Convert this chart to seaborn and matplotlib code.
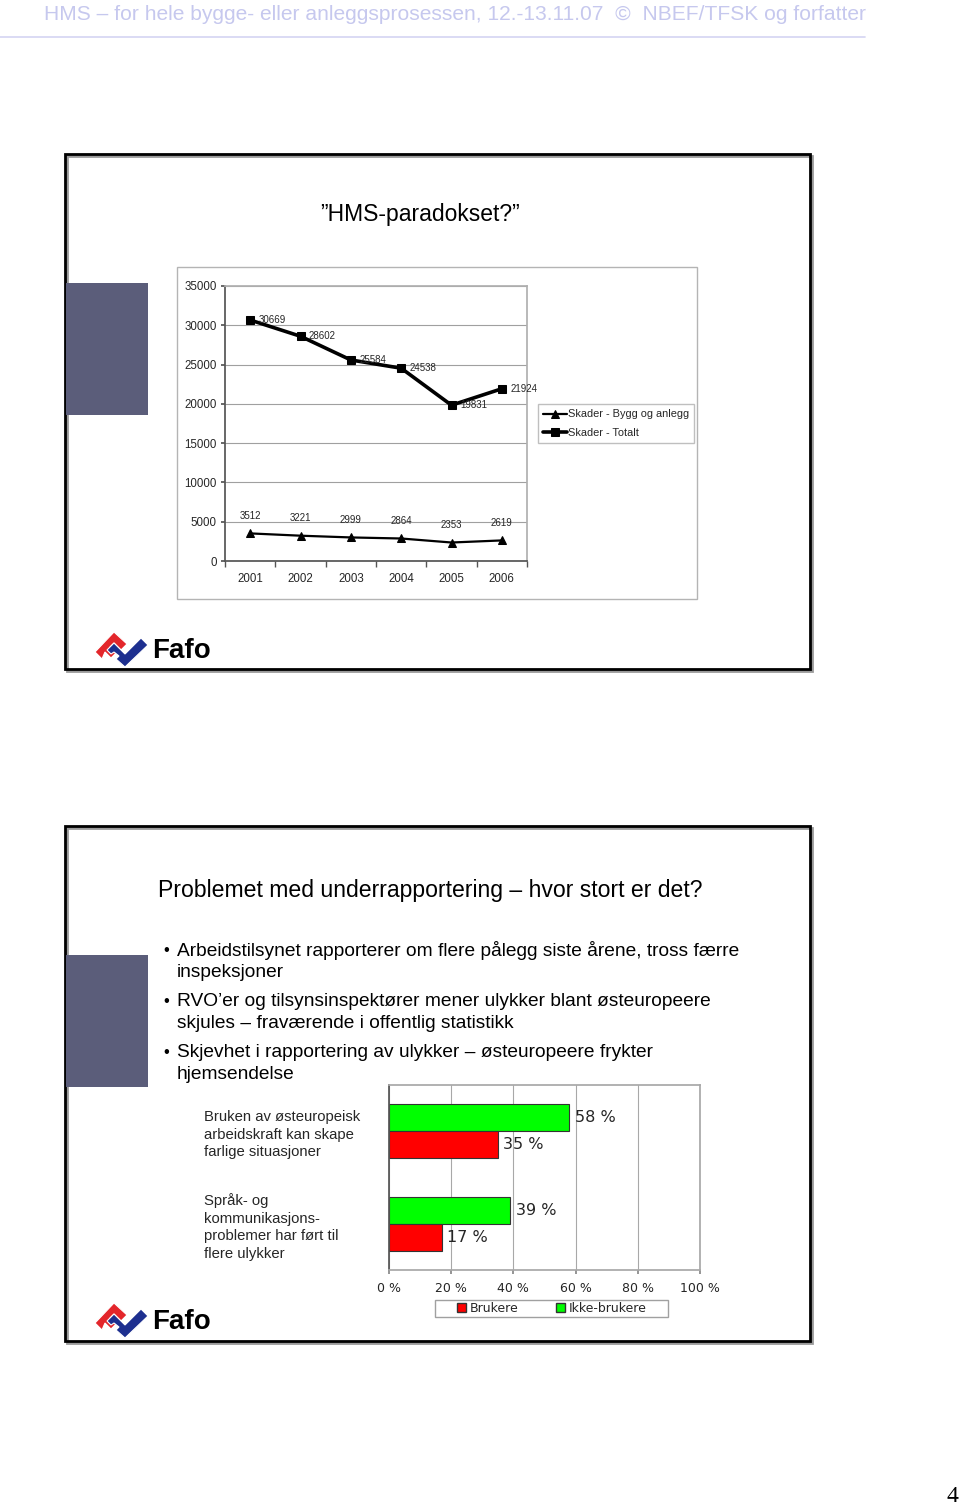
import matplotlib
matplotlib.use("Agg")
import matplotlib.pyplot as plt
import seaborn as sns
import pandas as pd
from matplotlib.patches import Rectangle, Polygon, Patch

# ---------------- data ----------------
years = [2001, 2002, 2003, 2004, 2005, 2006]
skader_bygg = [3512, 3221, 2999, 2864, 2353, 2619]
skader_totalt = [30669, 28602, 25584, 24538, 19831, 21924]
serie_bygg = "Skader - Bygg og anlegg"
serie_totalt = "Skader - Totalt"
y_ticks_line = [0, 5000, 10000, 15000, 20000, 25000, 30000, 35000]

utsagn = ["Bruken av østeuropeisk\narbeidskraft kan skape\nfarlige situasjoner",
          "Språk- og\nkommunikasjons-\nproblemer har ført til\nflere ulykker"]
brukere = [35, 17]
ikke_brukere = [58, 39]
x_ticks_bar = [0, 20, 40, 60, 80, 100]

header = "HMS – for hele bygge- eller anleggsprosessen, 12.-13.11.07  ©  NBEF/TFSK og forfatter"
title1 = "”HMS-paradokset?”"
title2 = "Problemet med underrapportering – hvor stort er det?"
bullets = [
    ["Arbeidstilsynet rapporterer om flere pålegg siste årene, tross færre", "inspeksjoner"],
    ["RVO’er og tilsynsinspektører mener ulykker blant østeuropeere", "skjules – fraværende i offentlig statistikk"],
    ["Skjevhet i rapportering av ulykker – østeuropeere frykter", "hjemsendelse"],
]

# ---------------- setup ----------------
sns.set_theme(style="white")
plt.rcParams["font.family"] = ["Liberation Sans", "DejaVu Sans"]

W, H = 960, 1508
fig = plt.figure(figsize=(W / 100, H / 100), dpi=100)


def rect(l, t, r, b):
    return [l / W, 1 - b / H, (r - l) / W, (b - t) / H]


bg = fig.add_axes([0, 0, 1, 1])
bg.set_xlim(0, W)
bg.set_ylim(H, 0)
bg.axis("off")

# header
bg.text(44, 15, header, ha="left", va="center", fontsize=15.1, color="#c6c8ee")
bg.plot([0, 865], [37, 37], color="#d4d4f2", lw=1.2)

# slide frames
for top in (154, 826):
    bg.add_patch(Rectangle((67, top + 2), 745, 515, fill=False, ec="#9a9a9a", lw=2))
    bg.add_patch(Rectangle((65, top), 745, 515, fill=False, ec="black", lw=2))
    bg.add_patch(Rectangle((66, top + 129), 82, 132, fc="#5b5d7a", ec="none"))


def fafo(y0):
    # logo (decoration)
    red = [(95, y0 + 20), (114, y0 + 0), (127, y0 + 12), (121, y0 + 18),
           (114, y0 + 11), (110, y0 + 15), (116, y0 + 21), (111, y0 + 26),
           (105, y0 + 20), (102, y0 + 27)]
    blue = [(107, y0 + 18), (114, y0 + 11), (125, y0 + 22), (141, y0 + 6),
            (148, y0 + 13), (125, y0 + 35), (116, y0 + 27), (119, y0 + 24),
            (114, y0 + 20), (111, y0 + 22)]
    bg.add_patch(Polygon(red, closed=True, fc="#e3262b", ec="white", lw=0.8))
    bg.add_patch(Polygon(blue, closed=True, fc="#1d2f8f", ec="white", lw=0.8))
    bg.text(152, y0 + 19, "Fafo", ha="left", va="center", fontsize=20,
            fontweight="bold", color="black")


fafo(632)
fafo(1303)

bg.text(420, 214, title1, ha="center", va="center", fontsize=16.5, color="black")
bg.text(158, 890, title2, ha="left", va="center", fontsize=16.6, color="black")
yy = 950
for b in bullets:
    bg.text(163, yy, "•", ha="left", va="center", fontsize=12, color="black")
    for i, line in enumerate(b):
        bg.text(177, yy, line, ha="left", va="center", fontsize=13.8, color="black")
        yy += 22.8
    yy += 5.5

bg.text(958, 1497, "4", ha="right", va="center", fontsize=17,
        family="Liberation Serif", color="black")

# ---------------- line chart ----------------
bg.add_patch(Rectangle((177, 267), 520, 332, fill=False, ec="#b4b4b4", lw=1))
df = pd.DataFrame({
    "År": years * 2,
    "Skader": skader_bygg + skader_totalt,
    "Serie": [serie_bygg] * len(years) + [serie_totalt] * len(years),
})
ax1 = fig.add_axes(rect(225, 286, 527, 561))
sns.lineplot(data=df[df["Serie"] == serie_bygg], x="År", y="Skader", color="black",
             marker="^", markersize=6, markeredgecolor="black", linewidth=1.6,
             label=serie_bygg, ax=ax1)
sns.lineplot(data=df[df["Serie"] == serie_totalt], x="År", y="Skader", color="black",
             marker="s", markersize=6, markeredgecolor="black", linewidth=2.6,
             label=serie_totalt, ax=ax1)
ax1.set_xlim(years[0] - 0.5, years[-1] + 0.5)
ax1.set_ylim(y_ticks_line[0], y_ticks_line[-1])
ax1.set_yticks(y_ticks_line)
ax1.set_yticklabels([str(t) for t in y_ticks_line])
ax1.set_xticks(years)
ax1.set_xticklabels([str(y) for y in years])
ax1.set_xticks([y + 0.5 for y in [years[0] - 1] + years], minor=True)
ax1.set_xlabel("")
ax1.set_ylabel("")
ax1.grid(axis="y", color="#a0a0a0", lw=0.8)
ax1.set_axisbelow(True)
for s in ("top", "right"):
    ax1.spines[s].set_color("#b0b0b0")
for s in ("left", "bottom"):
    ax1.spines[s].set_color("#555555")
ax1.tick_params(axis="y", left=True, length=3, color="#555555", labelsize=8.3, pad=3)
ax1.tick_params(axis="x", which="major", bottom=True, length=0, labelsize=8.3, pad=8.5)
ax1.tick_params(axis="x", which="minor", bottom=True, length=4, color="#555555")
for x, v in zip(years, skader_totalt):
    ax1.annotate(str(v), (x, v), xytext=(6, 0), textcoords="offset points",
                 ha="left", va="center", fontsize=7)
for x, v in zip(years, skader_bygg):
    ax1.annotate(str(v), (x, v), xytext=(0, 12.5), textcoords="offset points",
                 ha="center", va="center", fontsize=7)
ax1.legend(loc="upper left", bbox_to_anchor=(538 / W, 1 - 404 / H),
           bbox_transform=fig.transFigure, frameon=True, fancybox=False,
           edgecolor="#b0b0b0", fontsize=7.9, handlelength=2.1, handletextpad=0.1,
           borderpad=0.5, labelspacing=0.75, borderaxespad=0)

# ---------------- bar chart ----------------
dfb = pd.DataFrame({
    "Utsagn": utsagn * 2,
    "Andel": ikke_brukere + brukere,
    "Gruppe": ["Ikke-brukere"] * len(utsagn) + ["Brukere"] * len(utsagn),
})
ax2 = fig.add_axes(rect(389, 1085, 700, 1270))
sns.barplot(data=dfb, x="Andel", y="Utsagn", hue="Gruppe",
            hue_order=["Ikke-brukere", "Brukere"],
            palette={"Ikke-brukere": "#00ff00", "Brukere": "#ff0000"},
            saturation=1, orient="h", width=0.58, edgecolor="#333333",
            linewidth=0.8, legend=False, ax=ax2)
ax2.set_xlim(x_ticks_bar[0], x_ticks_bar[-1])
ax2.set_ylim(1.5, -0.5)
ax2.set_xticks(x_ticks_bar)
ax2.set_xticklabels([f"{t} %" for t in x_ticks_bar], family="DejaVu Sans", fontsize=9)
ax2.set_xlabel("")
ax2.set_ylabel("")
ax2.grid(axis="x", color="#a8a8a8", lw=0.8)
ax2.set_axisbelow(True)
for s in ("top", "right", "bottom"):
    ax2.spines[s].set_color("#a8a8a8")
ax2.spines["left"].set_color("#555555")
ax2.tick_params(axis="x", bottom=True, length=3, color="#888888", pad=6)
ax2.tick_params(axis="y", length=0, pad=133, labelsize=10.7)
for lbl in ax2.get_yticklabels():
    lbl.set_ha("left")
    lbl.set_linespacing(1.33)
for cont in ax2.containers:
    ax2.bar_label(cont, labels=[f"{v:.0f} %" for v in cont.datavalues], padding=4,
                  fontsize=11.5, family="DejaVu Sans")
handles = [Patch(fc="#ff0000", ec="#333333", label="Brukere"),
           Patch(fc="#00ff00", ec="#333333", label="Ikke-brukere")]
bg.add_patch(Rectangle((435, 1300), 233, 17, fill=False, ec="#a0a0a0", lw=1))
ax2.legend(handles=handles, ncol=2, loc="center",
           bbox_to_anchor=(552 / W, 1 - 1308.5 / H),
           bbox_transform=fig.transFigure, frameon=False,
           prop={"family": "DejaVu Sans", "size": 9},
           handlelength=0.7, handleheight=0.7, handletextpad=0.3, borderpad=0,
           borderaxespad=0, columnspacing=3.0)

fig.savefig("out.png", dpi=100)
